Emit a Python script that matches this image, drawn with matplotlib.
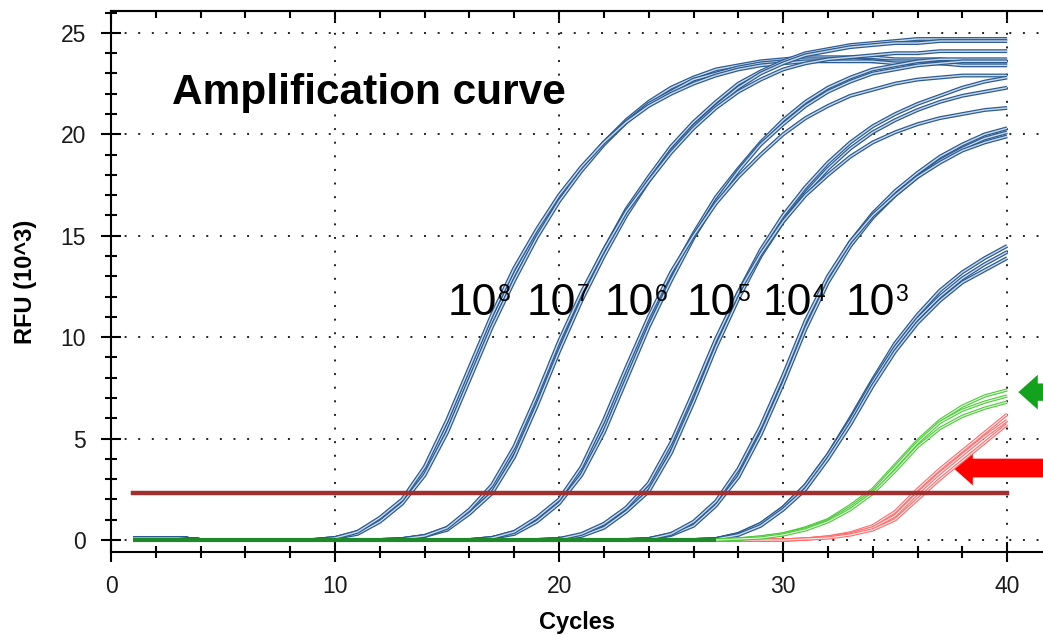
import matplotlib.pyplot as plt
from matplotlib.ticker import MultipleLocator
import numpy as np

plt.rcParams['font.family'] = ['Liberation Sans', 'DejaVu Sans']

cycles = np.arange(1, 41)
threshold = 2.3

# RFU (10^3) per cycle, 3 replicates per dilution
blue_1e8 = [
    [0.1, 0.1, 0.1, 0, 0, 0, 0, 0, 0, 0.1, 0.4, 1.0, 1.9, 3.4, 5.6, 8.2, 10.8, 13.1, 15.1, 16.9,
     18.3, 19.6, 20.7, 21.6, 22.3, 22.8, 23.2, 23.4, 23.6, 23.7, 23.8, 23.8, 23.8, 23.8, 23.7, 23.7, 23.7, 23.6, 23.6, 23.6],
    [0.1, 0.1, 0.1, 0, 0, 0, 0, 0, 0, 0.1, 0.3, 0.9, 1.8, 3.2, 5.3, 7.9, 10.5, 12.8, 14.9, 16.7,
     18.2, 19.5, 20.6, 21.5, 22.1, 22.7, 23.0, 23.3, 23.5, 23.6, 23.7, 23.7, 23.7, 23.6, 23.6, 23.6, 23.5, 23.5, 23.5, 23.5],
    [0.1, 0.1, 0.1, 0, 0, 0, 0, 0, 0, 0.1, 0.4, 1.1, 2.0, 3.6, 5.9, 8.5, 11.1, 13.4, 15.3, 17.0,
     18.4, 19.6, 20.6, 21.4, 22.0, 22.5, 22.9, 23.2, 23.4, 23.5, 23.6, 23.6, 23.6, 23.6, 23.5, 23.5, 23.5, 23.4, 23.4, 23.4],
]
blue_1e7 = [
    [0.1, 0.1, 0.1, 0, 0, 0, 0, 0, 0, 0, 0, 0, 0.05, 0.2, 0.6, 1.4, 2.5, 4.4, 6.9, 9.6,
     12.1, 14.3, 16.3, 17.9, 19.4, 20.6, 21.6, 22.5, 23.1, 23.6, 24.0, 24.2, 24.4, 24.5, 24.6, 24.7, 24.7, 24.7, 24.7, 24.7],
    [0.1, 0.1, 0.1, 0, 0, 0, 0, 0, 0, 0, 0, 0, 0.05, 0.2, 0.5, 1.3, 2.3, 4.1, 6.6, 9.3,
     11.8, 14.0, 16.0, 17.7, 19.2, 20.4, 21.4, 22.3, 23.0, 23.5, 23.9, 24.1, 24.3, 24.4, 24.5, 24.5, 24.6, 24.6, 24.6, 24.6],
    [0.1, 0.1, 0.1, 0, 0, 0, 0, 0, 0, 0, 0, 0, 0.05, 0.2, 0.6, 1.5, 2.7, 4.6, 7.1, 9.8,
     12.2, 14.3, 16.2, 17.7, 19.1, 20.3, 21.3, 22.1, 22.7, 23.2, 23.5, 23.7, 23.8, 23.9, 24.0, 24.0, 24.1, 24.1, 24.1, 24.1],
]
blue_1e6 = [
    [0.1, 0.1, 0.1, 0, 0, 0, 0, 0, 0, 0, 0, 0, 0, 0, 0, 0, 0.1, 0.4, 1.0, 1.9,
     3.4, 5.6, 8.2, 10.8, 13.1, 15.1, 16.9, 18.3, 19.6, 20.7, 21.6, 22.3, 22.8, 23.2, 23.4, 23.6, 23.7, 23.7, 23.7, 23.7],
    [0.1, 0.1, 0.1, 0, 0, 0, 0, 0, 0, 0, 0, 0, 0, 0, 0, 0, 0.1, 0.3, 0.9, 1.8,
     3.2, 5.3, 7.9, 10.5, 12.8, 14.9, 16.7, 18.2, 19.5, 20.5, 21.4, 22.1, 22.6, 23.0, 23.2, 23.4, 23.5, 23.6, 23.6, 23.6],
    [0.1, 0.1, 0.1, 0, 0, 0, 0, 0, 0, 0, 0, 0, 0, 0, 0, 0, 0.1, 0.4, 1.1, 2.0,
     3.6, 5.9, 8.5, 11.0, 13.2, 15.0, 16.6, 17.9, 19.0, 20.0, 20.8, 21.4, 21.9, 22.2, 22.5, 22.7, 22.8, 22.9, 22.9, 22.9],
]
blue_1e5 = [
    [0.1, 0.1, 0.1, 0, 0, 0, 0, 0, 0, 0, 0, 0, 0, 0, 0, 0, 0, 0, 0, 0.05,
     0.25, 0.7, 1.5, 2.6, 4.6, 7.1, 9.8, 12.2, 14.3, 16.0, 17.4, 18.6, 19.6, 20.4, 21.0, 21.5, 21.9, 22.3, 22.6, 22.8],
    [0.1, 0.1, 0.1, 0, 0, 0, 0, 0, 0, 0, 0, 0, 0, 0, 0, 0, 0, 0, 0, 0.05,
     0.2, 0.6, 1.4, 2.4, 4.3, 6.8, 9.5, 11.9, 14.0, 15.7, 17.1, 18.3, 19.3, 20.1, 20.7, 21.2, 21.6, 21.9, 22.1, 22.3],
    [0.1, 0.1, 0.1, 0, 0, 0, 0, 0, 0, 0, 0, 0, 0, 0, 0, 0, 0, 0, 0, 0.05,
     0.3, 0.8, 1.6, 2.8, 4.8, 7.3, 9.9, 12.2, 14.1, 15.7, 17.0, 18.0, 18.9, 19.6, 20.1, 20.5, 20.8, 21.0, 21.2, 21.3],
]
blue_1e4 = [
    [0.1, 0.1, 0.1, 0, 0, 0, 0, 0, 0, 0, 0, 0, 0, 0, 0, 0, 0, 0, 0, 0,
     0, 0, 0, 0.05, 0.3, 0.8, 1.8, 3.3, 5.4, 7.9, 10.6, 12.9, 14.7, 16.1, 17.2, 18.1, 18.9, 19.5, 20.0, 20.3],
    [0.1, 0.1, 0.1, 0, 0, 0, 0, 0, 0, 0, 0, 0, 0, 0, 0, 0, 0, 0, 0, 0,
     0, 0, 0, 0.05, 0.25, 0.7, 1.7, 3.1, 5.2, 7.7, 10.4, 12.7, 14.5, 15.9, 17.0, 17.9, 18.7, 19.3, 19.8, 20.1],
    [0.1, 0.1, 0.1, 0, 0, 0, 0, 0, 0, 0, 0, 0, 0, 0, 0, 0, 0, 0, 0, 0,
     0, 0, 0, 0.05, 0.3, 0.9, 1.9, 3.5, 5.6, 8.1, 10.8, 13.0, 14.7, 16.0, 17.0, 17.9, 18.6, 19.2, 19.6, 19.9],
]
blue_1e3 = [
    [0.1, 0.1, 0.1, 0, 0, 0, 0, 0, 0, 0, 0, 0, 0, 0, 0, 0, 0, 0, 0, 0,
     0, 0, 0, 0, 0, 0, 0.05, 0.3, 0.8, 1.6, 2.7, 4.2, 6.0, 7.9, 9.7, 11.1, 12.3, 13.2, 13.9, 14.5],
    [0.1, 0.1, 0.1, 0, 0, 0, 0, 0, 0, 0, 0, 0, 0, 0, 0, 0, 0, 0, 0, 0,
     0, 0, 0, 0, 0, 0, 0.05, 0.3, 0.8, 1.6, 2.7, 4.2, 5.9, 7.8, 9.5, 10.9, 12.0, 12.9, 13.6, 14.2],
    [0.1, 0.1, 0.1, 0, 0, 0, 0, 0, 0, 0, 0, 0, 0, 0, 0, 0, 0, 0, 0, 0,
     0, 0, 0, 0, 0, 0, 0.05, 0.25, 0.7, 1.5, 2.5, 4.0, 5.7, 7.6, 9.3, 10.7, 11.8, 12.7, 13.3, 13.9],
]
green = [
    [0, 0, 0, 0, 0, 0, 0, 0, 0, 0, 0, 0, 0, 0, 0, 0, 0, 0, 0, 0,
     0, 0, 0, 0, 0, 0, 0, 0.05, 0.15, 0.3, 0.6, 1.0, 1.7, 2.5, 3.7, 4.9, 5.9, 6.6, 7.1, 7.4],
    [0, 0, 0, 0, 0, 0, 0, 0, 0, 0, 0, 0, 0, 0, 0, 0, 0, 0, 0, 0,
     0, 0, 0, 0, 0, 0, 0, 0.05, 0.15, 0.3, 0.55, 0.95, 1.6, 2.4, 3.6, 4.8, 5.8, 6.4, 6.8, 7.1],
    [0, 0, 0, 0, 0, 0, 0, 0, 0, 0, 0, 0, 0, 0, 0, 0, 0, 0, 0, 0,
     0, 0, 0, 0, 0, 0, 0, 0.05, 0.1, 0.25, 0.5, 0.9, 1.5, 2.3, 3.4, 4.6, 5.5, 6.1, 6.5, 6.8],
]
red = [
    [0, 0, 0, 0, 0, 0, 0, 0, 0, 0, 0, 0, 0, 0, 0, 0, 0, 0, 0, 0,
     0, 0, 0, 0, 0, 0, 0, 0, 0, 0, 0.05, 0.15, 0.35, 0.7, 1.4, 2.5, 3.5, 4.4, 5.3, 6.2],
    [0, 0, 0, 0, 0, 0, 0, 0, 0, 0, 0, 0, 0, 0, 0, 0, 0, 0, 0, 0,
     0, 0, 0, 0, 0, 0, 0, 0, 0, 0, 0.05, 0.15, 0.3, 0.6, 1.2, 2.3, 3.3, 4.2, 5.1, 5.9],
    [0, 0, 0, 0, 0, 0, 0, 0, 0, 0, 0, 0, 0, 0, 0, 0, 0, 0, 0, 0,
     0, 0, 0, 0, 0, 0, 0, 0, 0, 0, 0.05, 0.1, 0.25, 0.5, 1.0, 2.0, 3.0, 3.9, 4.8, 5.7],
]

label_exps = ['8', '7', '6', '5', '4', '3']
label_x = [15.04, 18.57, 22.05, 25.71, 29.1, 32.77]
label_y = 11.08


def hollow(ax, x, y, outer, inner, z, lw=2.8):
    ax.plot(x, y, color=outer, lw=lw, zorder=z, solid_capstyle='butt')
    ax.plot(x, y, color=inner, lw=lw * 0.36, zorder=z, solid_capstyle='butt')


fig = plt.figure(figsize=(10.43, 6.36), dpi=100)
ax = fig.add_axes([111 / 1043, 1 - 552 / 636, 1 - 111 / 1043, 541 / 636])

for group in [blue_1e8, blue_1e7, blue_1e6, blue_1e5, blue_1e4, blue_1e3]:
    for rep in group:
        hollow(ax, cycles, rep, '#2a5b92', '#cbdaeb', 3)

for rep in red:
    hollow(ax, cycles, rep, '#ff6a6a', '#ffe4e4', 4, lw=2.4)

for rep in green:
    hollow(ax, cycles, rep, '#4cc93a', '#dbf5d4', 5, lw=2.4)
# baseline part of green traces looks darker
ax.plot(cycles[:27], green[0][:27], color='#1f8a2c', lw=3.0, zorder=5.5, solid_capstyle='butt')

ax.plot([cycles[0], cycles[-1]], [threshold, threshold], color='#a0302f', lw=3.2, zorder=6)

ax.set_xlim(0, 41.6)
ax.set_ylim(-0.59, 26.08)
ax.xaxis.set_major_locator(MultipleLocator(10))
ax.xaxis.set_minor_locator(MultipleLocator(2))
ax.yaxis.set_major_locator(MultipleLocator(5))
ax.yaxis.set_minor_locator(MultipleLocator(1))

ax.grid(True, which='major', color='#222222', ls=(0, (1, 6)), lw=1.4, zorder=1)
ax.set_axisbelow(True)

ax.spines['right'].set_visible(False)
for s in ['left', 'bottom', 'top']:
    ax.spines[s].set_linewidth(1.5)

ax.tick_params(which='both', direction='inout', width=1.5, top=False, right=False,
               labelsize=16.5, labelcolor='#1a1a1a')
ax.tick_params(which='major', length=14)
ax.tick_params(which='minor', length=8)
ax.tick_params(axis='y', which='major', pad=11)
ax.tick_params(axis='x', which='major', pad=9.5)

sec = ax.secondary_xaxis('top')
sec.xaxis.set_major_locator(MultipleLocator(10))
sec.xaxis.set_minor_locator(MultipleLocator(2))
sec.tick_params(which='both', direction='in', width=1.5, labeltop=False)
sec.tick_params(which='major', length=8.5)
sec.tick_params(which='minor', length=5)
sec.spines['top'].set_linewidth(1.5)

ax.set_xlabel('Cycles', fontsize=17, fontweight='bold', va='top')
ax.xaxis.set_label_coords(0.5, -0.109)
ax.set_ylabel('RFU (10^3)', fontsize=17, fontweight='bold')
ax.yaxis.set_label_coords(-0.0794, 0.5)

ax.text(2.72, 21.5, 'Amplification curve', fontsize=30.5, fontweight='bold', va='baseline', zorder=7)

for xp, e in zip(label_x, label_exps):
    t = ax.text(xp, label_y, '10', fontsize=32, va='baseline', ha='left', zorder=7)
    ax.annotate(e, xy=(1, 1), xycoords=t, xytext=(0.3, 0), textcoords='offset points',
                fontsize=16.5, va='top', ha='left', zorder=7)

ax.annotate('', xy=(40.5, 7.29), xytext=(44, 7.29), annotation_clip=False,
            arrowprops=dict(arrowstyle='simple,head_width=25,head_length=14,tail_width=12.5',
                            mutation_scale=1, color='#12a21e', lw=0, shrinkA=0, shrinkB=0))
ax.annotate('', xy=(37.6, 3.55), xytext=(44, 3.55), annotation_clip=False,
            arrowprops=dict(arrowstyle='simple,head_width=25,head_length=14,tail_width=13.5',
                            mutation_scale=1, color='#ff0000', lw=0, shrinkA=0, shrinkB=0))

fig.savefig('out.png', dpi=100)
